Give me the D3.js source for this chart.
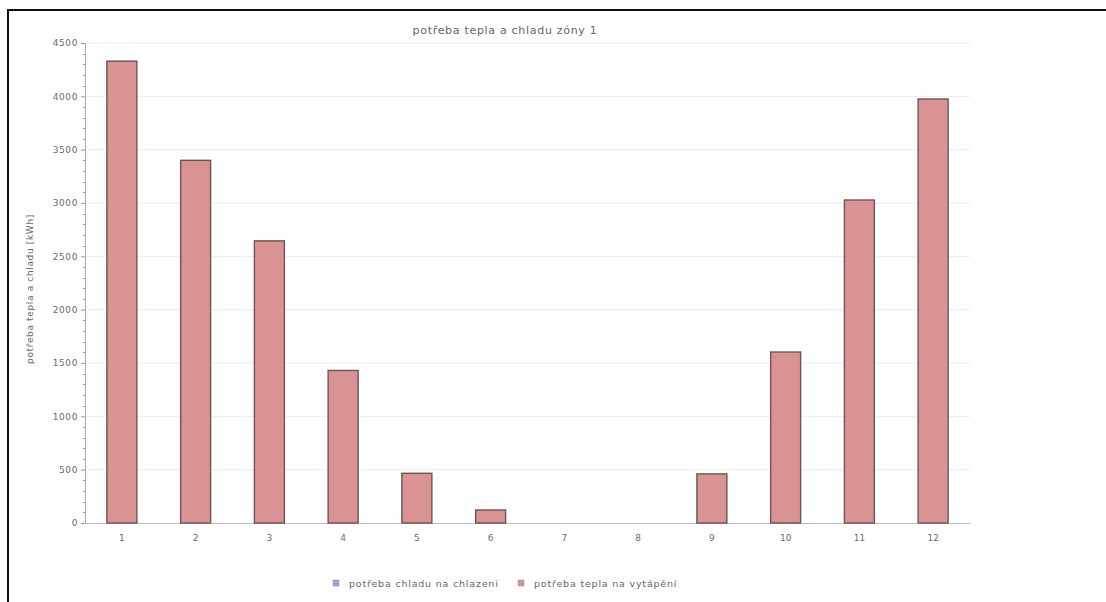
<!DOCTYPE html>
<html><head><meta charset="utf-8">
<script src="https://cdn.jsdelivr.net/npm/d3@7"></script>
<style>body{margin:0;background:#fff;} svg{display:block;}</style>
</head><body>
<svg id="c" width="1106" height="602"></svg>
<script>
const categories = ["1","2","3","4","5","6","7","8","9","10","11","12"];
const heating = [4330, 3400, 2645, 1430, 466, 122, 0, 0, 460, 1603, 3028, 3975];
const cooling = [0, 0, 0, 0, 0, 0, 0, 0, 0, 0, 0, 0];
const yTicks = [0, 500, 1000, 1500, 2000, 2500, 3000, 3500, 4000, 4500];
const seriesNames = ["potřeba chladu na chlazení", "potřeba tepla na vytápění"];
const seriesColors = ["#8fa7d6", "#d99393"];
const title = "potřeba tepla a chladu zóny 1";
const yLabel = "potřeba tepla a chladu [kWh]";

const svg = d3.select("#c");
const font = "DejaVu Sans, sans-serif";
const textCol = "#6a6a6a";

// border
svg.append("path").attr("d","M8,606 L8,10 L1110,10").attr("fill","none").attr("stroke","#111").attr("stroke-width",2);

const m = {l:85, r:970, t:43, b:523};
const x = d3.scaleBand().domain(categories).range([m.l, m.r]).paddingInner(0.58).paddingOuter(0.29);
const y = d3.scaleLinear().domain([0,4500]).range([m.b, m.t]);

// grid
svg.append("g").selectAll("line").data(yTicks.filter(d=>d>0)).join("line")
  .attr("x1", m.l).attr("x2", m.r).attr("y1", d=>y(d)).attr("y2", d=>y(d))
  .attr("stroke","#ececec").attr("stroke-width",1);

// minor ticks
const minor = d3.range(0, 4501, 100).filter(d=>d%500!==0);
svg.append("g").selectAll("line").data(minor).join("line")
  .attr("x1", m.l-2).attr("x2", m.l).attr("y1", d=>Math.round(y(d))+0.5).attr("y2", d=>Math.round(y(d))+0.5)
  .attr("stroke","#999");

// y axis
const ya = svg.append("g").attr("transform",`translate(${m.l},0)`)
  .call(d3.axisLeft(y).tickValues(yTicks).tickSize(4).tickPadding(3).tickFormat(d3.format("d")));
ya.select(".domain").attr("stroke","#aaa");
ya.selectAll(".tick line").attr("stroke","#999");
ya.selectAll("text").attr("font-family",font).attr("font-size",9).attr("fill",textCol).attr("letter-spacing",0.6);

// x axis
const xa = svg.append("g").attr("transform",`translate(0,${m.b})`)
  .call(d3.axisBottom(x).tickSize(0).tickPadding(12));
xa.select(".domain").attr("stroke","#bbb");
xa.selectAll("text").attr("font-family",font).attr("font-size",9).attr("fill",textCol);

// stacked bars
const stackData = categories.map((c,i)=>({cat:c, cool:cooling[i], heat:heating[i]}));
const stack = d3.stack().keys(["cool","heat"])(stackData);
stack.forEach((s, si)=>{
  svg.append("g").selectAll("rect").data(s.filter(d=>d[1]-d[0]>0)).join("rect")
    .attr("x", d=>x(d.data.cat)+0.5)
    .attr("width", x.bandwidth()-1)
    .attr("y", d=>y(d[1]))
    .attr("height", d=>y(d[0])-y(d[1]))
    .attr("fill", seriesColors[si])
    .attr("stroke", "#6e5454").attr("stroke-width",1.4);
});

// title
svg.append("text").attr("x",505).attr("y",34).attr("text-anchor","middle")
  .attr("font-family",font).attr("font-size",11).attr("letter-spacing",0.7).attr("fill","#666").text(title);

// y label
svg.append("text").attr("transform","translate(33,289) rotate(-90)").attr("text-anchor","middle")
  .attr("font-family",font).attr("font-size",9).attr("letter-spacing",0.65).attr("fill","#666").text(yLabel);

// legend
const lg = svg.append("g");
const lx = [333, 518];
seriesNames.forEach((n,i)=>{
  lg.append("rect").attr("x",lx[i]).attr("y",580).attr("width",6).attr("height",6)
    .attr("fill",seriesColors[i]).attr("stroke","#999").attr("stroke-width",0.5);
  lg.append("text").attr("x",lx[i]+16).attr("y",586.5).attr("font-family",font).attr("font-size",9.5)
    .attr("letter-spacing",0.8).attr("fill","#666").text(n);
});
</script>
</body></html>
